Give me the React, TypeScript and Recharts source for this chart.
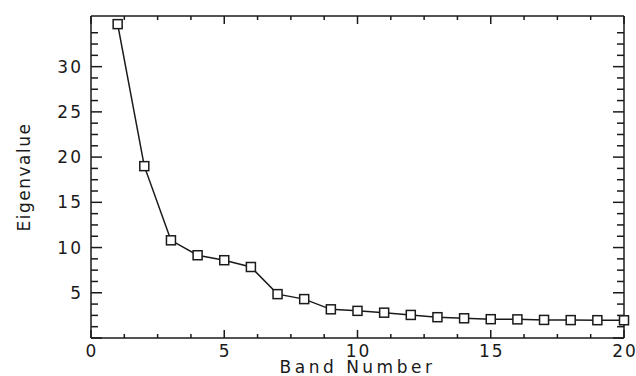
import React from 'react';
import { LineChart, Line, XAxis, YAxis } from 'recharts';

// band index and eigenvalue
const bands = [1, 2, 3, 4, 5, 6, 7, 8, 9, 10, 11, 12, 13, 14, 15, 16, 17, 18, 19, 20];
const eigenvalues = [34.7, 19.0, 10.8, 9.15, 8.6, 7.85, 4.85, 4.3, 3.17, 3.0, 2.8, 2.55, 2.3, 2.18, 2.08, 2.06, 2.0, 1.98, 1.97, 1.96];

const xTicks = [0, 1.25, 2.5, 3.75, 5, 6.25, 7.5, 8.75, 10, 11.25, 12.5, 13.75, 15, 16.25, 17.5, 18.75, 20];
const yTicks = [0, 1.25, 2.5, 3.75, 5, 6.25, 7.5, 8.75, 10, 11.25, 12.5, 13.75, 15, 16.25, 17.5, 18.75, 20, 21.25, 22.5, 23.75, 25, 26.25, 27.5, 28.75, 30, 31.25, 32.5, 33.75];
const yLabels = [5, 10, 15, 20, 25, 30];
const xLabels = [0, 5, 10, 15, 20];

const data = bands.map((b, i) => ({ band: b, value: eigenvalues[i] }));

const INK = '#1a1a1a';
const FONT = '"DejaVu Sans", sans-serif';

const isMajor = (v: number) => Math.abs(v % 5) < 1e-6;

// ticks are drawn inward, labels only on left and bottom
const makeTick = (side: 'left' | 'right' | 'top' | 'bottom') => (props: any) => {
  const { x, y, payload } = props;
  const v = payload.value;
  const major = isMajor(v);
  if (side === 'left' || side === 'right') {
    const len = major ? 11 : 7;
    const dir = side === 'left' ? 1 : -1;
    return (
      <g>
        <line x1={x} y1={y} x2={x + dir * len} y2={y} stroke={INK} strokeWidth={1.5} />
        {side === 'left' && yLabels.includes(v) && (
          <text x={x - 8} y={y + 6} textAnchor="end" fontSize={17} fontFamily={FONT} fill={INK} letterSpacing={2}>
            {v}
          </text>
        )}
      </g>
    );
  }
  const len = major ? 8 : 4;
  const dir = side === 'bottom' ? -1 : 1;
  return (
    <g>
      <line x1={x} y1={y} x2={x} y2={y + dir * len} stroke={INK} strokeWidth={1.5} />
      {side === 'bottom' && xLabels.includes(v) && (
        <text x={x + 1} y={y + 19} textAnchor="middle" fontSize={17} fontFamily={FONT} fill={INK} letterSpacing={2}>
          {v}
        </text>
      )}
    </g>
  );
};

const SquareDot = (props: any) => {
  const { cx, cy, index } = props;
  if (cx == null || cy == null) return null;
  return <rect key={`sq-${index}`} x={cx - 4.5} y={cy - 4.5} width={9} height={9} fill="#fff" stroke={INK} strokeWidth={1.5} />;
};

export default function App() {
  return (
    <div style={{ position: 'absolute', left: 0, top: 0, background: '#fff' }}>
      <LineChart width={636} height={376} data={data} margin={{ top: 15, right: 11, bottom: 0, left: 0 }}>
        <XAxis
          dataKey="band"
          type="number"
          domain={[0, 20]}
          ticks={xTicks}
          interval={0}
          tickSize={0}
          tickMargin={0}
          tickLine={false}
          tick={makeTick('bottom')}
          height={38}
          axisLine={{ stroke: INK, strokeWidth: 1.5 }}
          label={{ value: 'Band Number', position: 'insideBottom', offset: 3, fontSize: 17, fontFamily: FONT, fill: INK, letterSpacing: 3.5 }}
        />
        <XAxis
          xAxisId="top"
          orientation="top"
          dataKey="band"
          type="number"
          domain={[0, 20]}
          ticks={xTicks}
          interval={0}
          tickSize={0}
          tickMargin={0}
          tickLine={false}
          tick={makeTick('top')}
          height={1}
          axisLine={{ stroke: INK, strokeWidth: 1.5 }}
        />
        <YAxis
          type="number"
          domain={[0, 35.6]}
          ticks={yTicks}
          interval={0}
          tickSize={0}
          tickMargin={0}
          tickLine={false}
          tick={makeTick('left')}
          width={91}
          allowDataOverflow
          axisLine={{ stroke: INK, strokeWidth: 1.5 }}
          label={{ value: 'Eigenvalue', angle: -90, position: 'insideLeft', offset: 24, fontSize: 17, fontFamily: FONT, fill: INK, letterSpacing: 1.5, style: { textAnchor: 'middle' } }}
        />
        <YAxis
          yAxisId="right"
          orientation="right"
          type="number"
          domain={[0, 35.6]}
          ticks={yTicks}
          interval={0}
          tickSize={0}
          tickMargin={0}
          tickLine={false}
          tick={makeTick('right')}
          width={1}
          allowDataOverflow
          axisLine={{ stroke: INK, strokeWidth: 1.5 }}
        />
        <Line
          dataKey="value"
          stroke={INK}
          strokeWidth={1.5}
          dot={SquareDot}
          activeDot={false}
          isAnimationActive={false}
        />
        {/* invisible twin so the top and right frame axes get drawn */}
        <Line
          xAxisId="top"
          yAxisId="right"
          dataKey="value"
          stroke="none"
          dot={false}
          activeDot={false}
          legendType="none"
          isAnimationActive={false}
        />
      </LineChart>
    </div>
  );
}
